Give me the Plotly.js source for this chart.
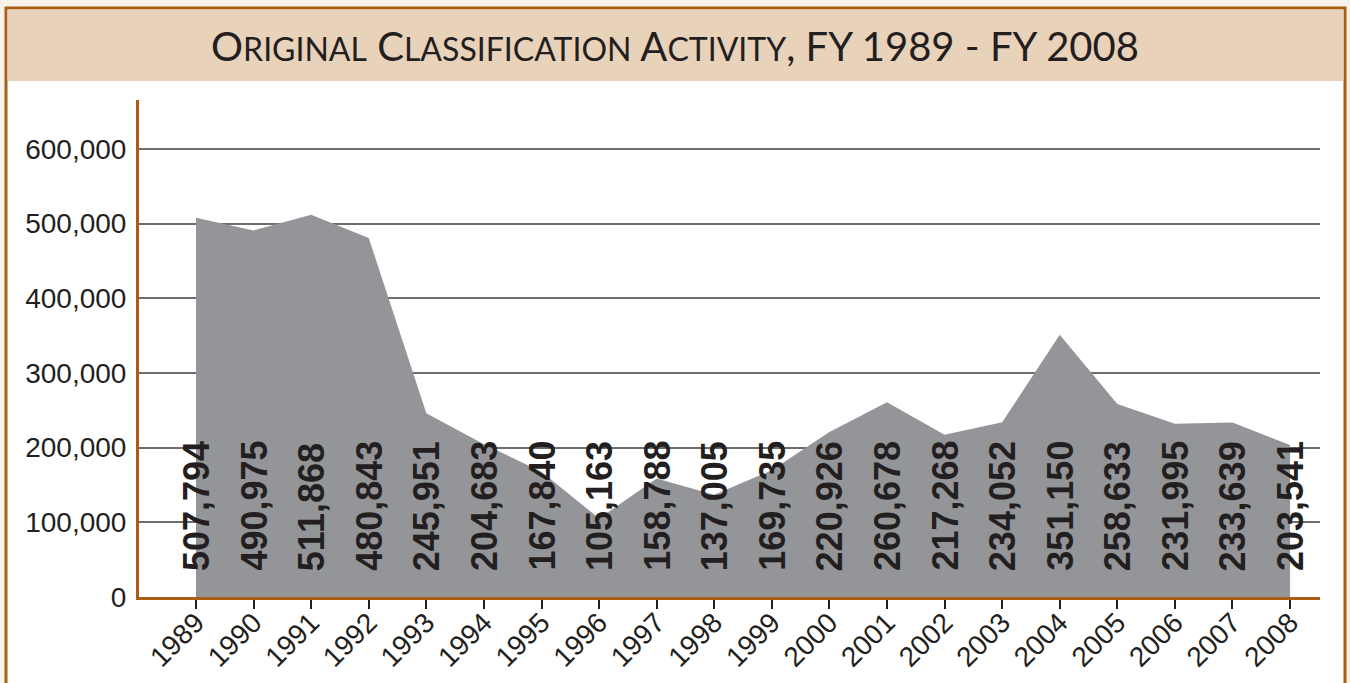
<!DOCTYPE html>
<html>
<head>
<meta charset="utf-8">
<script src="https://cdn.plot.ly/plotly-3.0.1.min.js"></script>
<style>
  html, body { margin: 0; padding: 0; background: #ffffff; }
  #chart { width: 1350px; height: 683px; }
</style>
</head>
<body>
<div id="chart"></div>
<script>
const years = [1989, 1990, 1991, 1992, 1993, 1994, 1995, 1996, 1997, 1998, 1999, 2000, 2001, 2002, 2003, 2004, 2005, 2006, 2007, 2008];
const actions = [507794, 490975, 511868, 480843, 245951, 204683, 167840, 105163, 158788, 137005, 169735, 220926, 260678, 217268, 234052, 351150, 258633, 231995, 233639, 203541];
const yTicks = [0, 100000, 200000, 300000, 400000, 500000, 600000];
const titleText = 'O<span style="font-size:32px">RIGINAL</span> C<span style="font-size:32px">LASSIFICATION</span> A<span style="font-size:32px">CTIVITY</span>, FY 1989 - FY 2008';

const BROWN = '#a85f14';
const L = 139, R = 30, T = 100, B = 86, W = 1350, H = 683;
const PW = W - L - R, PH = H - T - B;
const px = v => (v - L) / PW;
const py = v => (H - B - v) / PH;

const trace = {
  x: years,
  y: actions,
  type: 'scatter',
  mode: 'lines',
  fill: 'tozeroy',
  fillcolor: '#939598',
  line: { width: 0, color: '#939598' },
  hoverinfo: 'x+y'
};

const annotations = years.map((yr, i) => ({
  x: yr, y: 0, xref: 'x', yref: 'y',
  text: actions[i].toLocaleString('en-US'),
  textangle: -90,
  showarrow: false,
  xanchor: 'center', yanchor: 'bottom',
  yshift: 24,
  font: { family: 'Liberation Sans, Arial, sans-serif', size: 36, color: '#231f20', weight: 'bold' }
}));

const shapes = [
  { type: 'rect', xref: 'paper', yref: 'paper', layer: 'below',
    x0: px(6), x1: px(1345), y0: py(720), y1: py(8),
    fillcolor: '#ffffff', line: { color: BROWN, width: 3 } },
  { type: 'rect', xref: 'paper', yref: 'paper', layer: 'below',
    x0: px(7.5), x1: px(1343.5), y0: py(81), y1: py(9.5),
    fillcolor: '#e9d2ba', line: { width: 0 } }
];

const layout = {
  width: W, height: H,
  margin: { l: L, r: R, t: T, b: B, pad: 0 },
  paper_bgcolor: '#f8f2ed',
  plot_bgcolor: 'rgba(0,0,0,0)',
  showlegend: false,
  title: {
    text: titleText,
    xref: 'container', yref: 'container',
    x: 0.5, xanchor: 'center',
    y: 1 - 47 / H, yanchor: 'middle',
    font: { family: 'Lato, "Noto Sans", sans-serif', size: 40, color: '#231f20' }
  },
  xaxis: {
    range: [1988.01, 2008.52],
    tickmode: 'array',
    tickvals: years,
    ticktext: years.map(String),
    tickangle: -45,
    ticks: 'outside', ticklen: 9, tickwidth: 2, tickcolor: '#231f20',
    ticklabelstandoff: -14,
    showgrid: false, zeroline: false,
    showline: true, linecolor: BROWN, linewidth: 3,
    tickfont: { family: 'Liberation Sans, Arial, sans-serif', size: 28, color: '#231f20' },
    fixedrange: true
  },
  yaxis: {
    range: [0, 665600],
    tickmode: 'array',
    tickvals: yTicks,
    ticktext: yTicks.map(v => v.toLocaleString('en-US')),
    ticks: '',
    showgrid: true, gridcolor: '#6d6d6d', gridwidth: 2,
    zeroline: false,
    showline: true, linecolor: BROWN, linewidth: 3,
    ticklabelstandoff: 4,
    tickfont: { family: 'Liberation Sans, Arial, sans-serif', size: 28, color: '#231f20' },
    fixedrange: true
  },
  shapes: shapes,
  annotations: annotations
};

Plotly.newPlot('chart', [trace], layout, { displayModeBar: false, staticPlot: true });
</script>
</body>
</html>
